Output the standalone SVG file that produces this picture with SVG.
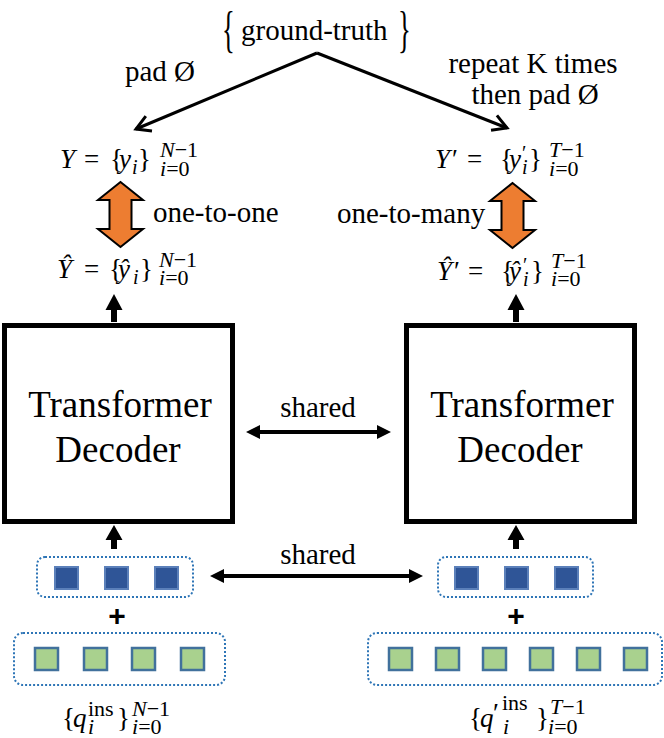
<svg xmlns="http://www.w3.org/2000/svg" width="664" height="738" viewBox="0 0 664 738" font-family="'Liberation Serif', 'DejaVu Serif', serif">
<style>
text{font-family:'Liberation Serif','DejaVu Serif',serif;fill:#000}
.t{font-size:29px}
.big{font-size:37px}
.m{font-size:27px}
.s{font-size:22px}
.s2{font-size:20px}
.it{font-style:italic}
.box{fill:#fff;stroke:#000;stroke-width:5}
.dot{fill:none;stroke:#2E75B6;stroke-width:2;stroke-dasharray:2 2}
.bq{fill:#2F5597;stroke:#5B80BA;stroke-width:2}
.gq{fill:#A9D18E;stroke:#41719C;stroke-width:2.5}
.orange{fill:#ED7D31;stroke:#000;stroke-width:2;stroke-linejoin:miter}
.line{fill:none;stroke:#000;stroke-width:3}
.hl{fill:none;stroke:#000;stroke-width:4}
.head{fill:#000}
.plus{font-family:'Liberation Sans',Arial,sans-serif;font-size:30px;font-weight:bold}
</style>
<defs>
<marker id="open" markerUnits="userSpaceOnUse" markerWidth="30" markerHeight="30" refX="0" refY="0" viewBox="-20 -15 30 30" orient="auto">
<path d="M-14,-8 L0,0 L-14,8" fill="none" stroke="#000" stroke-width="3" stroke-linejoin="miter"/>
</marker>
</defs>

<g id="ground-truth">
<text transform="translate(222,45.5) scale(0.7,1.316)" font-size="38">{</text>
<text class="t" x="241" y="40">ground-truth</text>
<text transform="translate(398,45.5) scale(0.7,1.316)" font-size="38">}</text>
</g>

<g id="labels-top">
<text class="t" x="125" y="81">pad Ø</text>
<text class="t" x="533" y="73" text-anchor="middle">repeat K times</text>
<text class="t" x="535" y="104" text-anchor="middle">then pad Ø</text>
</g>

<g id="Y-left">
<text class="m" y="168"><tspan class="it" x="60">Y</tspan><tspan x="84">=</tspan><tspan x="110">{</tspan><tspan class="it" x="119">y</tspan><tspan class="s2 it" x="132" y="174">i</tspan><tspan x="138" y="168">}</tspan><tspan class="s" x="160" y="157"><tspan class="it">N</tspan>−1</tspan><tspan class="s" x="160" y="176"><tspan class="it">i</tspan>=0</tspan></text>
</g>

<g id="Yhat-left">
<text class="m" y="278"><tspan class="it" x="57">Ŷ</tspan><tspan x="84">=</tspan><tspan x="109">{</tspan><tspan class="it" x="118">ŷ</tspan><tspan class="s2 it" x="133" y="284">i</tspan><tspan x="140" y="278">}</tspan><tspan class="s" x="159" y="267"><tspan class="it">N</tspan>−1</tspan><tspan class="s" x="159" y="285"><tspan class="it">i</tspan>=0</tspan></text>
</g>

<g id="Y-right">
<text class="m" y="168"><tspan class="it" x="435">Y</tspan><tspan x="452">′</tspan><tspan x="467">=</tspan><tspan x="500">{</tspan><tspan class="it" x="509">y</tspan><tspan class="s2" x="522" y="160">′</tspan><tspan class="s2 it" x="522" y="174">i</tspan><tspan x="529" y="168">}</tspan><tspan class="s" x="549" y="157"><tspan class="it">T</tspan>−1</tspan><tspan class="s" x="549" y="176"><tspan class="it">i</tspan>=0</tspan></text>
</g>

<g id="Yhat-right">
<text class="m" y="280"><tspan class="it" x="437">Ŷ</tspan><tspan x="454">′</tspan><tspan x="468">=</tspan><tspan x="501">{</tspan><tspan class="it" x="509">ŷ</tspan><tspan class="s2" x="523" y="272">′</tspan><tspan class="s2 it" x="523" y="286">i</tspan><tspan x="531" y="280">}</tspan><tspan class="s" x="551" y="268"><tspan class="it">T</tspan>−1</tspan><tspan class="s" x="551" y="286"><tspan class="it">i</tspan>=0</tspan></text>
</g>

<g id="one-to-one">
<path class="orange" d="M120.5,182 L143,200 L131.5,200 L131.5,229 L143,229 L120.5,247 L98,229 L109.5,229 L109.5,200 L98,200 Z"/>
<text class="t" x="153" y="222">one-to-one</text>
</g>

<g id="one-to-many">
<path class="orange" d="M512.5,183 L535,201 L523.5,201 L523.5,230 L535,230 L512.5,248 L490,230 L501.5,230 L501.5,201 L490,201 Z"/>
<text class="t" x="337" y="223">one-to-many</text>
</g>

<g id="decoder-left">
<rect class="box" x="4.5" y="325.5" width="228" height="196"/>
<text class="big" x="120" y="417" text-anchor="middle">Transformer</text>
<text class="big" x="118" y="462" text-anchor="middle">Decoder</text>
</g>

<g id="decoder-right">
<rect class="box" x="406.5" y="325.5" width="228" height="196"/>
<text class="big" x="522" y="417" text-anchor="middle">Transformer</text>
<text class="big" x="520" y="462" text-anchor="middle">Decoder</text>
</g>

<g id="pos-left">
<rect class="dot" x="37" y="557" width="156" height="40" rx="8"/>
<rect class="bq" x="55" y="567" width="23" height="22"/>
<rect class="bq" x="105" y="567" width="23" height="22"/>
<rect class="bq" x="155" y="567" width="23" height="22"/>
</g>

<g id="pos-right">
<rect class="dot" x="438" y="557" width="155" height="40" rx="8"/>
<rect class="bq" x="455" y="567" width="23" height="22"/>
<rect class="bq" x="505" y="567" width="23" height="22"/>
<rect class="bq" x="555" y="567" width="23" height="22"/>
</g>

<g id="ins-left">
<rect class="dot" x="14" y="633" width="211" height="52" rx="9"/>
<rect class="gq" x="35" y="648" width="23" height="22"/>
<rect class="gq" x="84" y="648" width="23" height="22"/>
<rect class="gq" x="132" y="648" width="23" height="22"/>
<rect class="gq" x="181" y="648" width="23" height="22"/>
</g>

<g id="ins-right">
<rect class="dot" x="368" y="633" width="294" height="52" rx="9"/>
<rect class="gq" x="389" y="648" width="23" height="22"/>
<rect class="gq" x="436" y="648" width="23" height="22"/>
<rect class="gq" x="483" y="648" width="23" height="22"/>
<rect class="gq" x="530" y="648" width="23" height="22"/>
<rect class="gq" x="577" y="648" width="23" height="22"/>
<rect class="gq" x="624" y="648" width="23" height="22"/>
</g>

<g id="plus">
<text class="plus" x="117" y="626" text-anchor="middle">+</text>
<text class="plus" x="516" y="626" text-anchor="middle">+</text>
</g>

<g id="q-left">
<text class="m" y="727"><tspan x="62">{</tspan><tspan class="it" x="73">q</tspan><tspan class="s" x="88" y="716">ins</tspan><tspan class="s it" x="88" y="734">i</tspan><tspan x="117" y="727">}</tspan><tspan class="s" x="132" y="716"><tspan class="it">N</tspan>−1</tspan><tspan class="s" x="132" y="734"><tspan class="it">i</tspan>=0</tspan></text>
</g>

<g id="q-right">
<text class="m" y="727"><tspan x="469">{</tspan><tspan class="it" x="480">q</tspan><tspan x="493" y="722">′</tspan><tspan class="s" x="502" y="710">ins</tspan><tspan class="s it" x="503" y="734">i</tspan><tspan x="536" y="727">}</tspan><tspan class="s" x="550" y="714"><tspan class="it">T</tspan>−1</tspan><tspan class="s" x="548" y="734"><tspan class="it">i</tspan>=0</tspan></text>
</g>

<g id="connectors">
<path class="line" d="M317,53 L136,129" marker-end="url(#open)"/>
<path class="line" d="M317,53 L507,128" marker-end="url(#open)"/>
<polygon class="head" points="114,294 122.5,310 117,310 117,322 111,322 111,310 105.5,310"/>
<polygon class="head" points="516,294 524.5,310 519,310 519,322 513,322 513,310 507.5,310"/>
<polygon class="head" points="114,525 122.5,540 117,540 117,549 111,549 111,540 105.5,540"/>
<polygon class="head" points="516,525 524.5,540 519,540 519,549 513,549 513,540 507.5,540"/>
<path class="hl" d="M258,432 L379,432"/>
<polygon class="head" points="246,432 260,425 260,439"/>
<polygon class="head" points="391,432 377,425 377,439"/>
<path class="hl" d="M222,576 L411,576"/>
<polygon class="head" points="210,576 224,569 224,583"/>
<polygon class="head" points="423,576 409,569 409,583"/>
<text class="t" x="318" y="417" text-anchor="middle">shared</text>
<text class="t" x="318" y="564" text-anchor="middle">shared</text>
</g>
</svg>
